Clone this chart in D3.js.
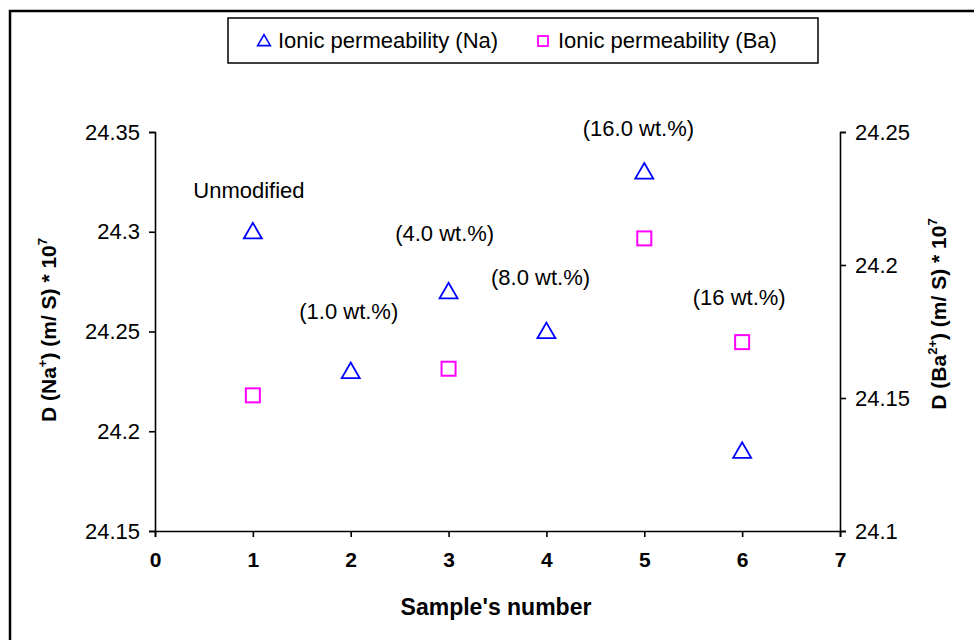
<!DOCTYPE html>
<meta charset="utf-8">
<script src="https://d3js.org/d3.v7.min.js"></script>
<style>
  body { margin: 0; background: #fff; }
  svg text { font-family: "Liberation Sans", Arial, sans-serif; fill: #000; }
</style>
<body>
<div id="chart"></div>
</body>
<script>
// data
var samples = [1, 2, 3, 4, 5, 6];
var naValues = [24.30, 24.23, 24.27, 24.25, 24.33, 24.19];
var baSamples = [1, 3, 5, 6];
var baValues = [24.151, 24.161, 24.21, 24.171];
var xTicks = [0, 1, 2, 3, 4, 5, 6, 7];
var leftTicks = [24.15, 24.2, 24.25, 24.3, 24.35];
var rightTicks = [24.1, 24.15, 24.2, 24.25];
// annotations in (sample, left axis) units
var noteText = ["Unmodified", "(1.0 wt.%)", "(4.0 wt.%)", "(8.0 wt.%)", "(16.0 wt.%)", "(16 wt.%)"];
var noteX = [0.96, 1.98, 2.96, 3.94, 4.94, 5.97];
var noteY = [24.321, 24.260, 24.299, 24.277, 24.352, 24.267];

var width = 974, height = 640;
var svg = d3.select("#chart").append("svg")
    .attr("width", width)
    .attr("height", height);

// outer frame (only top and left edges visible)
svg.append("path")
    .attr("d", "M10,640V11H974")
    .attr("fill", "none")
    .attr("stroke", "#000")
    .attr("stroke-width", 2.5);

var x = d3.scaleLinear().domain([0, 7]).range([155, 840]);
var yL = d3.scaleLinear().domain([24.15, 24.35]).range([531, 132]);
var yR = d3.scaleLinear().domain([24.1, 24.25]).range([531, 132]);
var fmt = function(d) { return String(+d.toFixed(2)); };

// axes
var gx = svg.append("g")
    .attr("transform", "translate(0,531)")
    .call(d3.axisBottom(x).tickValues(xTicks).tickFormat(d3.format("d")).tickSizeOuter(0).tickSize(6).tickPadding(15));
var gl = svg.append("g")
    .attr("transform", "translate(155,0)")
    .call(d3.axisLeft(yL).tickValues(leftTicks).tickFormat(fmt).tickSizeOuter(0).tickSize(6).tickPadding(9));
var gr = svg.append("g")
    .attr("transform", "translate(840,0)")
    .call(d3.axisRight(yR).tickValues(rightTicks).tickFormat(fmt).tickSizeOuter(0).tickSize(6).tickPadding(9));

[gx, gl, gr].forEach(function(g) {
  g.selectAll("path, line").attr("stroke", "#000").attr("stroke-width", 1.6);
  g.selectAll("text").attr("font-size", 22).attr("font-family", "Liberation Sans, Arial, sans-serif").attr("fill", "#000");
});
gx.selectAll("text").attr("font-weight", "bold").attr("font-size", 21);

// markers
var tri = d3.symbol().type(d3.symbolTriangle).size(140);
svg.append("g").selectAll("path")
    .data(samples)
    .enter().append("path")
    .attr("d", tri)
    .attr("transform", function(d, i) { return "translate(" + x(d) + "," + (yL(naValues[i]) + 1.5) + ")"; })
    .attr("fill", "none")
    .attr("stroke", "#0000ff")
    .attr("stroke-width", 1.8);

svg.append("g").selectAll("rect")
    .data(baSamples)
    .enter().append("rect")
    .attr("x", function(d) { return x(d) - 7; })
    .attr("y", function(d, i) { return yR(baValues[i]) - 7; })
    .attr("width", 14)
    .attr("height", 14)
    .attr("fill", "none")
    .attr("stroke", "#ff00ff")
    .attr("stroke-width", 2);

// annotations
svg.append("g").selectAll("text")
    .data(noteText)
    .enter().append("text")
    .attr("x", function(d, i) { return x(noteX[i]); })
    .attr("y", function(d, i) { return yL(noteY[i]); })
    .attr("dy", "0.35em")
    .attr("text-anchor", "middle")
    .attr("font-size", 22)
    .text(function(d) { return d; });

// axis titles
svg.append("text")
    .attr("x", 496).attr("y", 615)
    .attr("text-anchor", "middle")
    .attr("font-size", 23)
    .attr("font-weight", "bold")
    .text("Sample's number");

var lt = svg.append("text")
    .attr("transform", "translate(56,330) rotate(-90)")
    .attr("text-anchor", "middle")
    .attr("font-size", 21)
    .attr("font-weight", "bold");
lt.append("tspan").text("D (Na");
lt.append("tspan").attr("dy", -9).attr("font-size", 13).text("+");
lt.append("tspan").attr("dy", 9).text(") (m/ S) * 10");
lt.append("tspan").attr("dy", -9).attr("font-size", 13).text("7");

var rt = svg.append("text")
    .attr("transform", "translate(946,314) rotate(-90)")
    .attr("text-anchor", "middle")
    .attr("font-size", 21)
    .attr("font-weight", "bold");
rt.append("tspan").text("D (Ba");
rt.append("tspan").attr("dy", -9).attr("font-size", 13).text("2+");
rt.append("tspan").attr("dy", 9).text(") (m/ S) *  10");
rt.append("tspan").attr("dy", -9).attr("font-size", 13).text("7");

// legend
var lg = svg.append("g");
lg.append("rect")
    .attr("x", 228).attr("y", 18)
    .attr("width", 590).attr("height", 45)
    .attr("fill", "#fff")
    .attr("stroke", "#000")
    .attr("stroke-width", 1.5);
lg.append("path")
    .attr("d", d3.symbol().type(d3.symbolTriangle).size(70))
    .attr("transform", "translate(264,42)")
    .attr("fill", "none")
    .attr("stroke", "#0000ff")
    .attr("stroke-width", 1.6);
lg.append("text")
    .attr("x", 278).attr("y", 40).attr("dy", "0.35em")
    .attr("font-size", 22)
    .text("Ionic permeability (Na)");
lg.append("rect")
    .attr("x", 538).attr("y", 36)
    .attr("width", 10).attr("height", 10)
    .attr("fill", "none")
    .attr("stroke", "#ff00ff")
    .attr("stroke-width", 1.8);
lg.append("text")
    .attr("x", 558).attr("y", 40).attr("dy", "0.35em")
    .attr("font-size", 22)
    .text("Ionic permeability (Ba)");
</script>
